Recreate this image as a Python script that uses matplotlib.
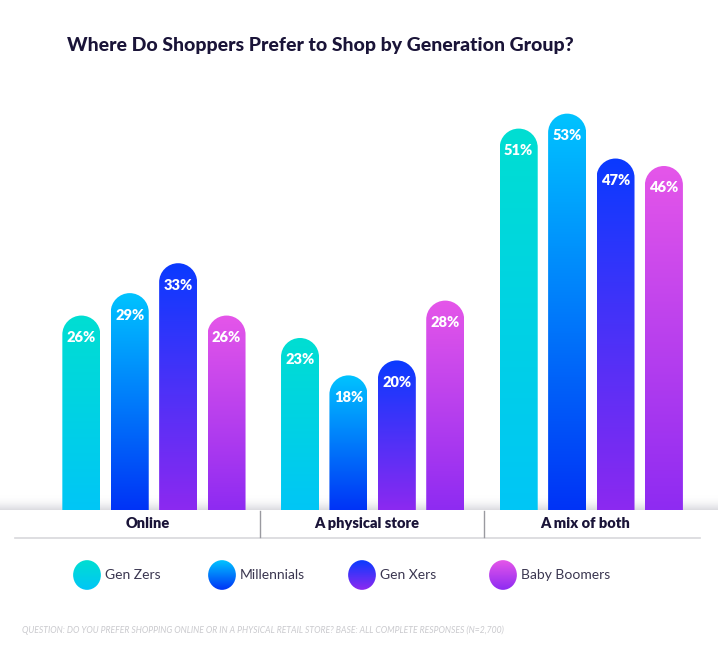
import numpy as np
import matplotlib
matplotlib.use("Agg")
import matplotlib.pyplot as plt
from matplotlib.path import Path
from matplotlib.patches import PathPatch, Ellipse, Rectangle
from matplotlib.colors import LinearSegmentedColormap

categories = ["Online", "A physical store", "A mix of both"]
series = ["Gen Zers", "Millennials", "Gen Xers", "Baby Boomers"]
gen_z = [26, 23, 51]
millennials = [29, 18, 53]
gen_x = [33, 20, 47]
boomers = [26, 28, 46]
values = [gen_z, millennials, gen_x, boomers]

# gradient colours (top, bottom) per series
grad = [("#00DED2", "#00C6F6"),
        ("#00C3FF", "#0033F6"),
        ("#0A3AFF", "#8C29F0"),
        ("#E556E9", "#8E2BF2")]

W, H = 718, 653
fig = plt.figure(figsize=(W / 100, H / 100), dpi=100)
fig.patch.set_facecolor("white")

# axes in pixel terms: x 40..700, y 80..510 (baseline)
ax_l, ax_r, ax_t, ax_b = 40, 700, 80, 510
ax = fig.add_axes([ax_l / W, 1 - ax_b / H, (ax_r - ax_l) / W, (ax_b - ax_t) / H])
ax.set_xlim(-0.521, 2.497)
ax.set_ylim(0, 57.5)
ax.axis("off")

px_x = (ax_r - ax_l) / (2.497 + 0.521)
px_y = (ax_b - ax_t) / 57.5
bar_w = 38 / px_x
step = 48.4 / px_x
rx = bar_w / 2
ry = rx * px_x / px_y

# shadow strip above the category band (full width)
sax = fig.add_axes([0, 1 - ax_b / H, 1, 15 / H])
sax.axis("off")
shade = np.linspace(0, 1, 50).reshape(-1, 1) * np.ones((1, 10))
sax.imshow(shade, extent=(0, 1, 0, 1), origin="lower",
           cmap=LinearSegmentedColormap.from_list("sh", [(0.86, 0.86, 0.88, 1), (1, 1, 1, 0)]),
           aspect="auto")
sax.set_zorder(-1)
ax.set_zorder(1)
ax.patch.set_alpha(0)

k = 0.5523
for s, vals in enumerate(values):
    cmap = LinearSegmentedColormap.from_list("g%d" % s, [grad[s][1], grad[s][0]])
    for g, v in enumerate(vals):
        xc = g + (s - 1.5) * step
        x0, x1 = xc - rx, xc + rx
        ys = v - ry
        verts = [(x0, 0), (x0, ys),
                 (x0, ys + k * ry), (xc - k * rx, v), (xc, v),
                 (xc + k * rx, v), (x1, ys + k * ry), (x1, ys),
                 (x1, 0), (x0, 0)]
        codes = [Path.MOVETO, Path.LINETO,
                 Path.CURVE4, Path.CURVE4, Path.CURVE4,
                 Path.CURVE4, Path.CURVE4, Path.CURVE4,
                 Path.LINETO, Path.CLOSEPOLY]
        patch = PathPatch(Path(verts, codes), facecolor="none", edgecolor="none")
        ax.add_patch(patch)
        img = ax.imshow(np.linspace(0, 1, 256).reshape(-1, 1), extent=(x0, x1, 0, v),
                        origin="lower", cmap=cmap, aspect="auto", zorder=2)
        img.set_clip_path(patch)
        ax.text(xc, v - 22 / px_y, "%d%%" % v, ha="center", va="center", color="white",
                fontsize=10.5, fontweight="heavy", family="Lato", zorder=3)

# category band
fig.add_artist(plt.Line2D([15 / W, 700 / W], [(H - 537.5) / H] * 2, color="#d8d8dc", lw=1.2))
for sx in [260, 484]:
    fig.add_artist(plt.Line2D([sx / W] * 2, [(H - 537) / H, (H - 511) / H], color="#9a9aa0", lw=1))
for g, c in enumerate(categories):
    xpx = ax_l + (g + 0.521) * px_x - 6
    fig.text(xpx / W, (H - 524) / H, c, ha="center", va="center", fontsize=10.5,
             fontweight="heavy", color="#1a1438", family="Lato")

# legend
leg_x = [87, 222, 362, 503]
for s, name in enumerate(series):
    lax = fig.add_axes([(leg_x[s] - 15) / W, (H - 590) / H, 30 / W, 30 / H])
    lax.set_xlim(-1, 1)
    lax.set_ylim(-1, 1)
    lax.axis("off")
    e = Ellipse((0, 0), 1.85, 1.98, facecolor="none", edgecolor="none")
    lax.add_patch(e)
    cmap = LinearSegmentedColormap.from_list("l%d" % s, [grad[s][1], grad[s][0]])
    im = lax.imshow(np.linspace(0, 1, 64).reshape(-1, 1), extent=(-1, 1, -1, 1),
                    origin="lower", cmap=cmap, aspect="auto")
    im.set_clip_path(e)
    fig.text((leg_x[s] + 18) / W, (H - 575) / H, name, ha="left", va="center",
             fontsize=10, color="#3a3650", family="Lato")

fig.text(67 / W, (H - 45) / H, "Where Do Shoppers Prefer to Shop by Generation Group?",
         ha="left", va="center", fontsize=14, fontweight="black", color="#1a1438",
         family="Lato")
fig.text(22 / W, (H - 630) / H,
         "QUESTION: DO YOU PREFER SHOPPING ONLINE OR IN A PHYSICAL RETAIL STORE? BASE: ALL COMPLETE RESPONSES (N=2,700)",
         ha="left", va="center", fontsize=6.2, style="italic", color="#cacace", family="Lato")

fig.savefig("out.png", dpi=100, facecolor="white")
